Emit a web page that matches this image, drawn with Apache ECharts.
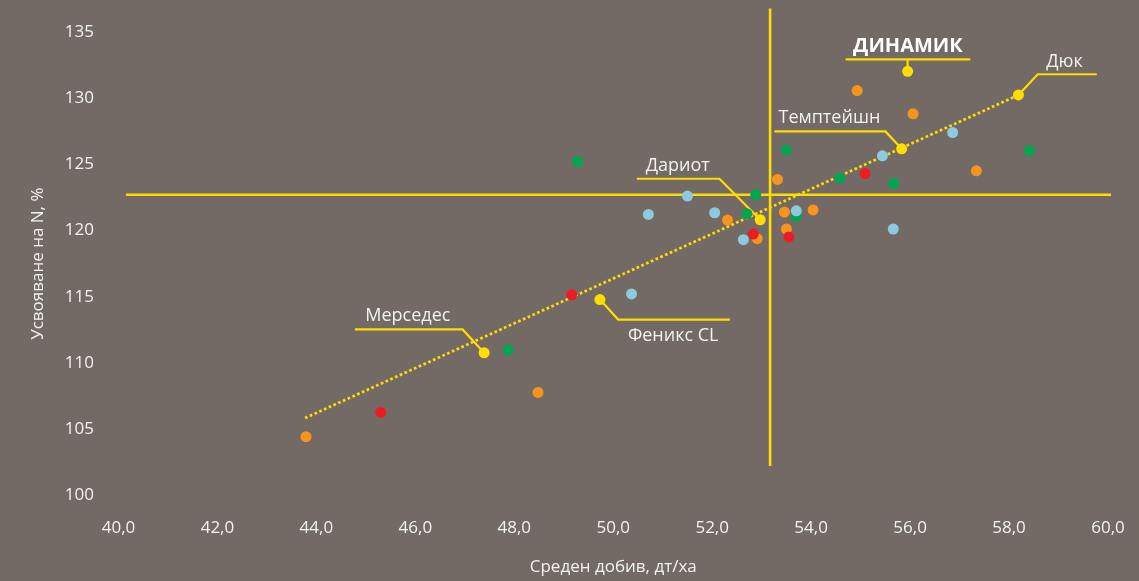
<!DOCTYPE html>
<html>
<head>
<meta charset="utf-8">
<script src="https://cdn.jsdelivr.net/npm/echarts@6/dist/echarts.min.js"></script>
<style>
html,body{margin:0;padding:0;background:#736a65;}
#chart{width:1139px;height:581px;}
</style>
</head>
<body>
<div id="chart"></div>
<script>
// ---- data ----
const xTicks = [40, 42, 44, 46, 48, 50, 52, 54, 56, 58, 60];
const yTicks = [100, 105, 110, 115, 120, 125, 130, 135];

const orangePts = [[43.79,104.41],[48.48,107.76],[52.31,120.80],[52.91,119.39],[53.32,123.87],[53.46,121.40],[54.04,121.56],[53.50,120.12],[54.93,130.59],[56.06,128.83],[57.34,124.52]];
const redPts = [[45.30,106.25],[49.16,115.14],[52.83,119.74],[53.55,119.52],[55.09,124.32]];
const greenPts = [[47.88,110.98],[49.28,125.23],[52.88,122.71],[52.70,121.28],[53.50,126.09],[53.70,121.07],[54.58,123.97],[55.67,123.57],[58.41,126.06]];
const bluePts = [[50.37,115.21],[50.71,121.22],[51.50,122.61],[52.05,121.35],[52.63,119.31],[53.70,121.50],[55.44,125.66],[55.66,120.12],[56.86,127.42]];

const varietyNames = ['Мерседес', 'Феникс CL', 'Дариот', 'Темптейшн', 'Дюк', 'ДИНАМИК'];
const varietyX = [47.39, 49.73, 52.97, 55.83, 58.19, 55.95];
const varietyY = [110.76, 114.78, 120.82, 126.19, 130.26, 132.05];

const trendX = [43.77, 58.10];
const trendY = [105.82, 130.10];

const meanX = 53.17;          // vertical reference line
const meanY = 122.71;         // horizontal reference line
const meanXSpan = [102.2, 136.8];
const meanYSpan = [40.15, 60.18];

// ---- annotation layout (pixel offsets from the point) ----
const labelLayout = [
  {lines:[[[0,0],[-21.6,-23.3],[-129.3,-23.3]]], text:[-76.3,-37.3]},
  {lines:[[[0,0],[18.3,20],[130,20]]], text:[73.3,36.7]},
  {lines:[[[0,0],[-40.7,-41],[-123.4,-41]]], text:[-82.4,-54]},
  {lines:[[[0,0],[-16.3,-17.3],[-127.3,-17.3]]], text:[-72.3,-30.7]},
  {lines:[[[0,0],[19.3,-20.7],[78.3,-20.7]]], text:[46,-33.3]},
  {lines:[[[0,0],[0,-12]],[[-62,-12],[62.7,-12]]], text:[0.3,-24.6], bold:true}
];

const YEL = '#ffdd00';
const TXT = '#f2f2f2';
const FONT = '"Open Sans", "Noto Sans", sans-serif';

const chart = echarts.init(document.getElementById('chart'), null, {renderer:'canvas'});

const fmt = v => v.toFixed(1).replace('.', ',');

chart.setOption({
  backgroundColor: '#736a65',
  animation: false,
  grid: {left: 118.5, right: 31, top: 32.3, bottom: 85.3},
  xAxis: {
    type: 'value', min: xTicks[0], max: xTicks[xTicks.length-1], interval: 2,
    axisLine: {show:false}, axisTick: {show:false}, splitLine: {show:false},
    axisLabel: {color: TXT, fontSize: 17, fontFamily: FONT, margin: 25, formatter: fmt},
    name: 'Среден добив, дт/ха', nameLocation: 'middle', nameGap: 64,
    nameTextStyle: {color: TXT, fontSize: 17, fontFamily: FONT}
  },
  yAxis: {
    type: 'value', min: yTicks[0], max: yTicks[yTicks.length-1], interval: 5,
    axisLine: {show:false}, axisTick: {show:false}, splitLine: {show:false},
    axisLabel: {color: TXT, fontSize: 17, fontFamily: FONT, margin: 24.5},
    name: 'Усвояване на N, %', nameLocation: 'middle', nameGap: 72,
    nameTextStyle: {color: TXT, fontSize: 17, fontFamily: FONT}
  },
  series: [
    {type:'line', data:[[meanYSpan[0], meanY],[meanYSpan[1], meanY]], clip:false, symbol:'none',
     lineStyle:{color:YEL, width:2.6}, z:1, silent:true},
    {type:'line', data:[[meanX, meanXSpan[0]],[meanX, meanXSpan[1]]], clip:false, symbol:'none',
     lineStyle:{color:YEL, width:2.6}, z:1, silent:true},
    {type:'line', data:[[trendX[0], trendY[0]],[trendX[1], trendY[1]]], symbol:'none',
     lineStyle:{color:YEL, width:2.7, type:[2.7,2.5], cap:'butt'}, z:1, silent:true},
    {type:'custom', z:2, clip:false, silent:true,
     data: varietyX.map((x,i)=>[x, varietyY[i], i]),
     renderItem: function(params, api){
       const p = api.coord([api.value(0), api.value(1)]);
       const i = api.value(2);
       const L = labelLayout[i];
       const children = L.lines.map(pl => ({
         type:'polyline',
         shape:{points: pl.map(o=>[p[0]+o[0], p[1]+o[1]])},
         style:{stroke:YEL, lineWidth:2.2, fill:null}
       }));
       children.push({
         type:'text',
         style:{
           text: varietyNames[i],
           x: p[0]+L.text[0], y: p[1]+L.text[1],
           align:'center', verticalAlign:'middle',
           fill: L.bold ? '#ffffff' : TXT,
           font: (L.bold ? 'bold 20px ' : '18px ') + FONT
         }
       });
       return {type:'group', children};
     }
    },
    {type:'scatter', data: orangePts, symbolSize:11, itemStyle:{color:'#f7941d', opacity:1}, z:3},
    {type:'scatter', data: redPts, symbolSize:11, itemStyle:{color:'#ed1c24', opacity:1}, z:3},
    {type:'scatter', data: greenPts, symbolSize:11, itemStyle:{color:'#00a651', opacity:1}, z:3},
    {type:'scatter', data: bluePts, symbolSize:11, itemStyle:{color:'#8ccbdf', opacity:1}, z:3},
    {type:'scatter', data: varietyX.map((x,i)=>[x, varietyY[i]]), symbolSize:11, itemStyle:{color:YEL, opacity:1}, z:4}
  ]
});
</script>
</body>
</html>
